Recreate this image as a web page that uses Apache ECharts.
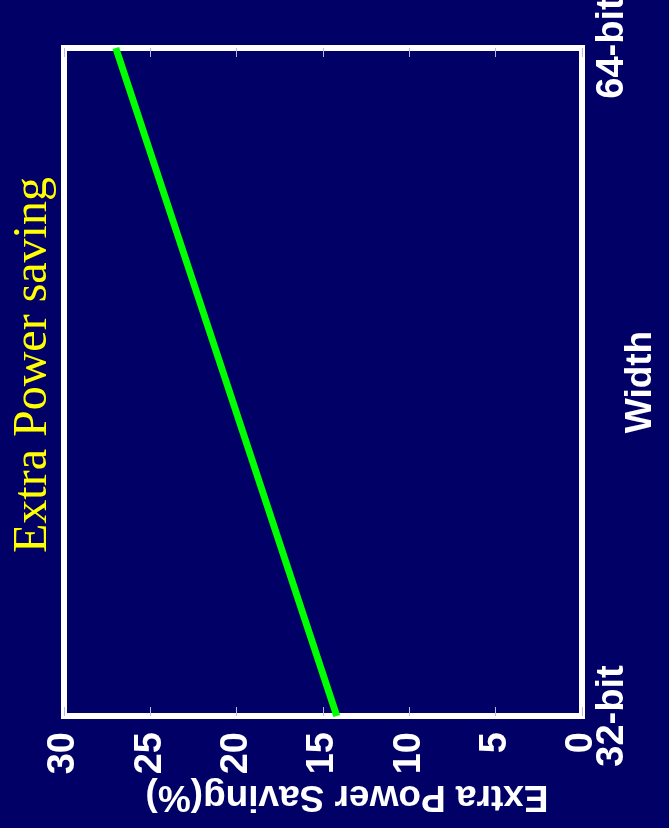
<!DOCTYPE html>
<html>
<head>
<meta charset="utf-8">
<script src="https://cdn.jsdelivr.net/npm/echarts@6/dist/echarts.min.js"></script>
<style>
  html, body { margin: 0; padding: 0; background: #000066; }
  #chart { width: 669px; height: 828px; }
</style>
</head>
<body>
<div id="chart"></div>
<script>
// Processor word widths and the extra power saving measured at each
const widths = ['32-bit', '64-bit'];
const savings = [14.2, 27];

// Saving axis ticks (percent)
const savingMin = 0;
const savingMax = 30;
const savingStep = 5;

const titleText = 'Extra Power saving';
const savingAxisName = 'Extra Power Saving(%)';
const widthAxisName = 'Width';

const labelFont = {
  color: '#ffffff',
  fontFamily: '"Liberation Sans", Arial, sans-serif',
  fontWeight: 'bold',
  fontSize: 38
};
const nameFont = Object.assign({}, labelFont, { fontSize: 37 });

const chart = echarts.init(document.getElementById('chart'));

chart.setOption({
  backgroundColor: '#000066',
  animation: false,
  grid: {
    left: 64,
    right: 87,
    top: 48,
    bottom: 112,
    outerBoundsMode: 'none',
    containLabel: false,
    show: true,
    borderColor: '#ffffff',
    borderWidth: 6,
    backgroundColor: 'transparent'
  },
  graphic: [{
    type: 'text',
    x: 33,
    y: 365,
    rotation: Math.PI / 2,
    style: {
      text: titleText,
      fill: '#ffff00',
      font: '48px "Liberation Serif", "Times New Roman", serif',
      textAlign: 'center',
      textVerticalAlign: 'middle'
    }
  }],
  xAxis: [{
    type: 'value',
    position: 'bottom',
    inverse: true,
    min: savingMin,
    max: savingMax,
    interval: savingStep,
    name: savingAxisName,
    nameLocation: 'middle',
    nameRotate: 180,
    nameGap: 62,
    nameMoveOverlap: false,
    // the name sits a little right of the plot centre
    nameTextStyle: Object.assign({ padding: [0, 48, 0, 0] }, nameFont),
    axisLine: { show: false },
    splitLine: { show: false },
    axisTick: { show: true, inside: true, length: 9, lineStyle: { color: '#b8b8e0', width: 1 } },
    axisLabel: Object.assign({ rotate: 90, margin: 16 }, labelFont)
  }, {
    type: 'value',
    position: 'top',
    inverse: true,
    min: savingMin,
    max: savingMax,
    interval: savingStep,
    axisLine: { show: false },
    splitLine: { show: false },
    axisTick: { show: true, inside: true, length: 9, lineStyle: { color: '#b8b8e0', width: 1 } },
    axisLabel: { show: false }
  }],
  yAxis: {
    type: 'category',
    position: 'right',
    data: widths,
    boundaryGap: false,
    name: widthAxisName,
    nameLocation: 'middle',
    nameRotate: 90,
    nameGap: 40,
    nameMoveOverlap: false,
    nameTextStyle: nameFont,
    axisLine: { show: false },
    axisTick: { show: false },
    splitLine: { show: false },
    axisLabel: Object.assign({ rotate: 90, margin: 12 }, labelFont)
  },
  series: [{
    type: 'line',
    xAxisIndex: 0,
    data: savings,
    symbol: 'none',
    lineStyle: { color: '#00ff00', width: 7, cap: 'butt' }
  }]
});
</script>
</body>
</html>
